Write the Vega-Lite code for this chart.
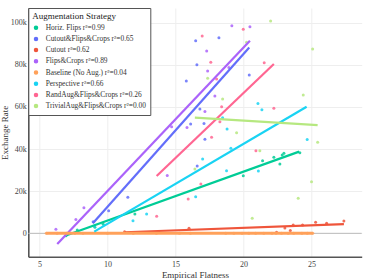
{
  "$schema": "https://vega.github.io/schema/vega-lite/v6.json",
  "width": 333.4,
  "height": 248.7,
  "autosize": {"type": "none"},
  "padding": {"left": 28.3, "top": 8, "right": 11.3, "bottom": 23.3},
  "background": "white",
  "config": {
    "font": "Liberation Serif",
    "view": {"stroke": null}
  },
  "datasets": {
    "pts": [
      {"series": "Horiz. Flips r²=0.99", "x": 6.95, "y": -1100},
      {"series": "Horiz. Flips r²=0.99", "x": 7.78, "y": 1600},
      {"series": "Horiz. Flips r²=0.99", "x": 9.08, "y": 2850},
      {"series": "Horiz. Flips r²=0.99", "x": 9.69, "y": 4300},
      {"series": "Horiz. Flips r²=0.99", "x": 12.02, "y": 9200},
      {"series": "Horiz. Flips r²=0.99", "x": 19.99, "y": 27400},
      {"series": "Horiz. Flips r²=0.99", "x": 21.41, "y": 34500},
      {"series": "Horiz. Flips r²=0.99", "x": 22.24, "y": 36100},
      {"series": "Horiz. Flips r²=0.99", "x": 22.68, "y": 32900},
      {"series": "Horiz. Flips r²=0.99", "x": 22.85, "y": 37200},
      {"series": "Horiz. Flips r²=0.99", "x": 22.98, "y": 38000},
      {"series": "Horiz. Flips r²=0.99", "x": 24.15, "y": 38300},
      {"series": "Cutout&Flips&Crops r²=0.65", "x": 8.95, "y": 5500},
      {"series": "Cutout&Flips&Crops r²=0.65", "x": 10.09, "y": 10700},
      {"series": "Cutout&Flips&Crops r²=0.65", "x": 11.5, "y": 17100},
      {"series": "Cutout&Flips&Crops r²=0.65", "x": 15.8, "y": 72300},
      {"series": "Cutout&Flips&Crops r²=0.65", "x": 16.12, "y": 51900},
      {"series": "Cutout&Flips&Crops r²=0.65", "x": 16.49, "y": 91500},
      {"series": "Cutout&Flips&Crops r²=0.65", "x": 16.58, "y": 80000},
      {"series": "Cutout&Flips&Crops r²=0.65", "x": 16.6, "y": 32000},
      {"series": "Cutout&Flips&Crops r²=0.65", "x": 16.8, "y": 59000},
      {"series": "Cutout&Flips&Crops r²=0.65", "x": 17.1, "y": 52200},
      {"series": "Cutout&Flips&Crops r²=0.65", "x": 17.17, "y": 44700},
      {"series": "Cutout&Flips&Crops r²=0.65", "x": 18.2, "y": 92900},
      {"series": "Cutout&Flips&Crops r²=0.65", "x": 20.43, "y": 75200},
      {"series": "Cutout r²=0.62", "x": 11.26, "y": 800},
      {"series": "Cutout r²=0.62", "x": 16.0, "y": 2400},
      {"series": "Cutout r²=0.62", "x": 22.44, "y": 500},
      {"series": "Cutout r²=0.62", "x": 23.05, "y": 2500},
      {"series": "Cutout r²=0.62", "x": 23.45, "y": 1300},
      {"series": "Cutout r²=0.62", "x": 23.66, "y": 3900},
      {"series": "Cutout r²=0.62", "x": 24.35, "y": 3900},
      {"series": "Cutout r²=0.62", "x": 25.31, "y": 5200},
      {"series": "Cutout r²=0.62", "x": 26.12, "y": 4750},
      {"series": "Cutout r²=0.62", "x": 27.39, "y": 5800},
      {"series": "Flips&Crops r²=0.89", "x": 6.21, "y": 1900},
      {"series": "Flips&Crops r²=0.89", "x": 7.68, "y": 6600},
      {"series": "Flips&Crops r²=0.89", "x": 8.27, "y": 12200},
      {"series": "Flips&Crops r²=0.89", "x": 14.4, "y": 27500},
      {"series": "Flips&Crops r²=0.89", "x": 14.72, "y": 50600},
      {"series": "Flips&Crops r²=0.89", "x": 15.85, "y": 50300},
      {"series": "Flips&Crops r²=0.89", "x": 17.17, "y": 57800},
      {"series": "Flips&Crops r²=0.89", "x": 17.3, "y": 86600},
      {"series": "Flips&Crops r²=0.89", "x": 17.37, "y": 77100},
      {"series": "Flips&Crops r²=0.89", "x": 17.9, "y": 65200},
      {"series": "Flips&Crops r²=0.89", "x": 18.93, "y": 78700},
      {"series": "Flips&Crops r²=0.89", "x": 19.15, "y": 98600},
      {"series": "Flips&Crops r²=0.89", "x": 20.48, "y": 98100},
      {"series": "Baseline (No Aug.) r²=0.04", "x": 5.5, "y": 0},
      {"series": "Baseline (No Aug.) r²=0.04", "x": 6.3, "y": 0},
      {"series": "Baseline (No Aug.) r²=0.04", "x": 7.0, "y": 0},
      {"series": "Baseline (No Aug.) r²=0.04", "x": 7.6, "y": 0},
      {"series": "Baseline (No Aug.) r²=0.04", "x": 8.2, "y": 0},
      {"series": "Baseline (No Aug.) r²=0.04", "x": 10.0, "y": 0},
      {"series": "Baseline (No Aug.) r²=0.04", "x": 11.9, "y": 0},
      {"series": "Baseline (No Aug.) r²=0.04", "x": 13.6, "y": 0},
      {"series": "Baseline (No Aug.) r²=0.04", "x": 15.3, "y": 0},
      {"series": "Baseline (No Aug.) r²=0.04", "x": 16.1, "y": 0},
      {"series": "Baseline (No Aug.) r²=0.04", "x": 18.7, "y": 0},
      {"series": "Baseline (No Aug.) r²=0.04", "x": 19.3, "y": 0},
      {"series": "Baseline (No Aug.) r²=0.04", "x": 19.9, "y": 0},
      {"series": "Baseline (No Aug.) r²=0.04", "x": 20.4, "y": 0},
      {"series": "Baseline (No Aug.) r²=0.04", "x": 20.9, "y": 0},
      {"series": "Baseline (No Aug.) r²=0.04", "x": 21.5, "y": 0},
      {"series": "Baseline (No Aug.) r²=0.04", "x": 22.1, "y": 0},
      {"series": "Baseline (No Aug.) r²=0.04", "x": 22.4, "y": 0},
      {"series": "Baseline (No Aug.) r²=0.04", "x": 22.8, "y": 0},
      {"series": "Baseline (No Aug.) r²=0.04", "x": 23.3, "y": 0},
      {"series": "Baseline (No Aug.) r²=0.04", "x": 23.7, "y": 0},
      {"series": "Baseline (No Aug.) r²=0.04", "x": 24.3, "y": 0},
      {"series": "Baseline (No Aug.) r²=0.04", "x": 24.7, "y": 0},
      {"series": "Baseline (No Aug.) r²=0.04", "x": 25.1, "y": 0},
      {"series": "Perspective r²=0.66", "x": 9.06, "y": 3500},
      {"series": "Perspective r²=0.66", "x": 11.88, "y": 6000},
      {"series": "Perspective r²=0.66", "x": 12.88, "y": 9200},
      {"series": "Perspective r²=0.66", "x": 16.49, "y": 17400},
      {"series": "Perspective r²=0.66", "x": 17.0, "y": 35300},
      {"series": "Perspective r²=0.66", "x": 18.47, "y": 54900},
      {"series": "Perspective r²=0.66", "x": 18.8, "y": 49500},
      {"series": "Perspective r²=0.66", "x": 18.76, "y": 29700},
      {"series": "Perspective r²=0.66", "x": 19.08, "y": 40400},
      {"series": "Perspective r²=0.66", "x": 21.07, "y": 61600},
      {"series": "Perspective r²=0.66", "x": 21.36, "y": 58700},
      {"series": "Perspective r²=0.66", "x": 21.1, "y": 29600},
      {"series": "Perspective r²=0.66", "x": 24.69, "y": 44600},
      {"series": "RandAug&Flips&Crops r²=0.26", "x": 13.62, "y": 8100},
      {"series": "RandAug&Flips&Crops r²=0.26", "x": 15.94, "y": 16300},
      {"series": "RandAug&Flips&Crops r²=0.26", "x": 16.87, "y": 23400},
      {"series": "RandAug&Flips&Crops r²=0.26", "x": 16.97, "y": 93700},
      {"series": "RandAug&Flips&Crops r²=0.26", "x": 17.6, "y": 81200},
      {"series": "RandAug&Flips&Crops r²=0.26", "x": 17.66, "y": 45600},
      {"series": "RandAug&Flips&Crops r²=0.26", "x": 18.03, "y": 73300},
      {"series": "RandAug&Flips&Crops r²=0.26", "x": 18.27, "y": 53000},
      {"series": "RandAug&Flips&Crops r²=0.26", "x": 18.4, "y": 60100},
      {"series": "RandAug&Flips&Crops r²=0.26", "x": 19.99, "y": 96900},
      {"series": "RandAug&Flips&Crops r²=0.26", "x": 20.92, "y": 39200},
      {"series": "RandAug&Flips&Crops r²=0.26", "x": 21.53, "y": 81000},
      {"series": "RandAug&Flips&Crops r²=0.26", "x": 22.24, "y": 59400},
      {"series": "TrivialAug&Flips&Crops r²=0.00", "x": 16.43, "y": 30500},
      {"series": "TrivialAug&Flips&Crops r²=0.00", "x": 17.37, "y": 73600},
      {"series": "TrivialAug&Flips&Crops r²=0.00", "x": 18.47, "y": 63800},
      {"series": "TrivialAug&Flips&Crops r²=0.00", "x": 19.5, "y": 47800},
      {"series": "TrivialAug&Flips&Crops r²=0.00", "x": 20.23, "y": 90700},
      {"series": "TrivialAug&Flips&Crops r²=0.00", "x": 20.65, "y": 7100},
      {"series": "TrivialAug&Flips&Crops r²=0.00", "x": 21.21, "y": 39200},
      {"series": "TrivialAug&Flips&Crops r²=0.00", "x": 22.0, "y": 100800},
      {"series": "TrivialAug&Flips&Crops r²=0.00", "x": 24.03, "y": 16600},
      {"series": "TrivialAug&Flips&Crops r²=0.00", "x": 24.4, "y": 65700},
      {"series": "TrivialAug&Flips&Crops r²=0.00", "x": 25.01, "y": 24500},
      {"series": "TrivialAug&Flips&Crops r²=0.00", "x": 25.09, "y": 87500},
      {"series": "TrivialAug&Flips&Crops r²=0.00", "x": 25.46, "y": 43200}
    ],
    "trends": [
      {"series": "Horiz. Flips r²=0.99", "x": 6.85, "y": -1300},
      {"series": "Horiz. Flips r²=0.99", "x": 24.1, "y": 38800},
      {"series": "Cutout&Flips&Crops r²=0.65", "x": 8.93, "y": 4750},
      {"series": "Cutout&Flips&Crops r²=0.65", "x": 20.43, "y": 88200},
      {"series": "Cutout r²=0.62", "x": 11.26, "y": 500},
      {"series": "Cutout r²=0.62", "x": 27.39, "y": 4400},
      {"series": "Flips&Crops r²=0.89", "x": 6.31, "y": -5100},
      {"series": "Flips&Crops r²=0.89", "x": 20.48, "y": 91500},
      {"series": "Baseline (No Aug.) r²=0.04", "x": 5.5, "y": 0},
      {"series": "Baseline (No Aug.) r²=0.04", "x": 25.1, "y": 0},
      {"series": "Perspective r²=0.66", "x": 9.03, "y": 800},
      {"series": "Perspective r²=0.66", "x": 24.65, "y": 60100},
      {"series": "RandAug&Flips&Crops r²=0.26", "x": 13.62, "y": 27200},
      {"series": "RandAug&Flips&Crops r²=0.26", "x": 22.24, "y": 80400},
      {"series": "TrivialAug&Flips&Crops r²=0.00", "x": 16.43, "y": 54900},
      {"series": "TrivialAug&Flips&Crops r²=0.00", "x": 25.46, "y": 51400}
    ],
    "zero": [{"y": 0}]
  },
  "encoding": {
    "x": {
      "field": "x", "type": "quantitative",
      "scale": {"domain": [4.18, 28.7], "nice": false, "zero": false},
      "axis": {
        "title": "Empirical Flatness",
        "values": [5, 10, 15, 20, 25],
        "grid": true, "gridColor": "#eeeeee", "gridWidth": 1,
        "domain": true, "domainColor": "#555555", "domainWidth": 1.6,
        "ticks": false, "labelPadding": 4,
        "labelFontSize": 8, "labelColor": "#444444", "labelFont": "Liberation Serif",
        "titleFontSize": 9, "titleFontWeight": "normal", "titleColor": "#333333",
        "titleFont": "Liberation Serif", "titlePadding": 2
      }
    },
    "y": {
      "field": "y", "type": "quantitative",
      "scale": {"domain": [-11100, 107000], "nice": false, "zero": false},
      "axis": {
        "title": "Exchange Rate",
        "values": [0, 20000, 40000, 60000, 80000, 100000],
        "labelExpr": "datum.value === 0 ? '0' : format(datum.value / 1000, 'd') + 'k'",
        "grid": true, "gridColor": "#eeeeee", "gridWidth": 1,
        "domain": true, "domainColor": "#555555", "domainWidth": 1.6,
        "ticks": false, "labelPadding": 2,
        "labelFontSize": 8, "labelColor": "#444444", "labelFont": "Liberation Serif",
        "titleFontSize": 9, "titleFontWeight": "normal", "titleColor": "#333333",
        "titleFont": "Liberation Serif", "titlePadding": 1
      }
    }
  },
  "layer": [
    {
      "data": {"name": "zero"},
      "mark": {"type": "rule", "color": "#bbbbbb", "strokeWidth": 1},
      "encoding": {"y": {"field": "y", "type": "quantitative"}, "x": null}
    },
    {
      "data": {"name": "pts"},
      "mark": {"type": "point", "filled": true, "shape": "circle", "size": 9, "opacity": 0.85},
      "encoding": {
        "color": {
          "field": "series", "type": "nominal",
          "scale": {
            "domain": ["Horiz. Flips r²=0.99", "Cutout&Flips&Crops r²=0.65", "Cutout r²=0.62", "Flips&Crops r²=0.89", "Baseline (No Aug.) r²=0.04", "Perspective r²=0.66", "RandAug&Flips&Crops r²=0.26", "TrivialAug&Flips&Crops r²=0.00"],
            "range": ["#00cc96", "#636efa", "#EF553B", "#ab63fa", "#FFA15A", "#19d3f3", "#FF6692", "#B6E880"]
          },
          "legend": {
            "title": "Augmentation Strategy",
            "orient": "top-left", "offset": 0,
            "padding": 4, "strokeColor": "#555555", "fillColor": "white",
            "titleFont": "Liberation Serif", "titleFontSize": 9, "titleFontWeight": "normal", "titleColor": "#222222",
            "titlePadding": 3,
            "labelFont": "Liberation Serif", "labelFontSize": 7.4, "labelColor": "#333333",
            "symbolType": "circle", "symbolSize": 9, "symbolOpacity": 1,
            "rowPadding": 1.2, "labelOffset": 6
          }
        }
      }
    },
    {
      "data": {"name": "trends"},
      "mark": {"type": "line", "strokeCap": "butt"},
      "encoding": {
        "color": {"field": "series", "type": "nominal"},
        "detail": {"field": "series"},
        "strokeWidth": {
          "condition": {"test": "datum.series === 'Baseline (No Aug.) r²=0.04'", "value": 3},
          "value": 2.2
        }
      }
    }
  ]
}
